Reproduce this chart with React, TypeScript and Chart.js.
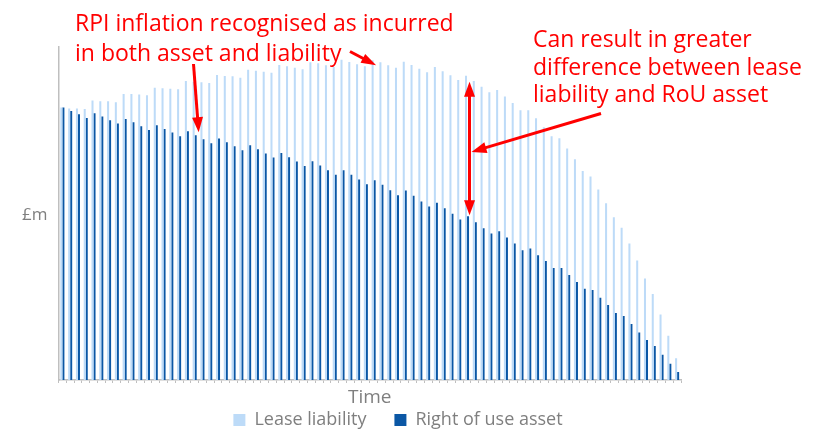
import React, { useEffect, useRef } from 'react';
import { Chart, registerables } from 'chart.js';

Chart.register(...registerables);

const periods = [
  '1', '2', '3', '4', '5', '6', '7', '8', '9', '10',
  '11', '12', '13', '14', '15', '16', '17', '18', '19', '20',
  '21', '22', '23', '24', '25', '26', '27', '28', '29', '30',
  '31', '32', '33', '34', '35', '36', '37', '38', '39', '40',
  '41', '42', '43', '44', '45', '46', '47', '48', '49', '50',
  '51', '52', '53', '54', '55', '56', '57', '58', '59', '60',
  '61', '62', '63', '64', '65', '66', '67', '68', '69', '70',
  '71', '72', '73', '74', '75', '76', '77', '78', '79', '80',
];

const leaseLiability = [
  81.8, 81.5, 81.5, 81.4, 83.9, 83.7, 83.7, 83.4, 85.9, 85.9,
  85.7, 85.5, 87.8, 87.6, 87.5, 87.3, 89.8, 89.6, 89.4, 89.2,
  91.6, 91.3, 91.2, 90.8, 93.2, 92.9, 92.6, 92.3, 94.6, 94.2,
  93.8, 93.3, 95.4, 95.1, 94.5, 94.0, 96.2, 95.5, 94.8, 94.2,
  96.0, 95.4, 94.5, 93.8, 95.6, 94.6, 93.5, 92.4, 94.0, 92.7,
  91.5, 90.1, 91.4, 89.8, 88.1, 86.4, 87.1, 85.1, 83.2, 81.0,
  81.0, 78.6, 75.9, 73.2, 72.6, 69.5, 66.3, 62.8, 61.1, 57.2,
  53.1, 48.9, 45.7, 41.0, 35.9, 30.5, 25.8, 19.7, 13.3, 6.5,
];

const rightOfUseAsset = [
  81.8, 80.8, 79.8, 78.7, 80.1, 79.1, 78.0, 77.0, 78.4, 77.4,
  76.2, 75.1, 76.5, 75.4, 74.3, 73.2, 74.7, 73.5, 72.3, 71.1,
  72.5, 71.4, 70.2, 69.0, 70.5, 69.3, 68.0, 66.8, 68.2, 66.9,
  65.6, 64.3, 65.7, 64.4, 63.0, 61.6, 63.0, 61.6, 60.2, 58.8,
  60.0, 58.6, 57.0, 55.5, 56.9, 55.3, 53.6, 52.1, 53.2, 51.6,
  49.9, 48.2, 49.2, 47.4, 45.6, 44.0, 44.7, 42.8, 41.0, 39.0,
  39.5, 37.5, 35.7, 33.6, 33.6, 31.5, 29.4, 27.4, 27.0, 24.7,
  22.5, 20.1, 19.2, 16.8, 14.3, 12.0, 10.2, 7.6, 4.9, 2.4,
];

const seriesLabels = ['Lease liability', 'Right of use asset'];
const xTitle = 'Time';
const yTitle = '£m';
const noteRpi = ['RPI inflation recognised as incurred', 'in both asset and liability'];
const noteGap = ['Can result in greater', 'difference between lease', 'liability and RoU asset'];

const LIGHT = '#BDDBF8';
const DARK = '#0B57A5';
const GREY = '#7F7F7F';
const AXIS = '#BFBFBF';
const RED = '#FF0000';
const FONT = '"Open Sans", sans-serif';

const W = 815;
const H = 439;
const PAD_RIGHT = 19;
const PLOT_RIGHT = 681;

function arrowHead(ctx: CanvasRenderingContext2D, bx: number, by: number, tx: number, ty: number, len: number, half: number) {
  const dx = tx - bx;
  const dy = ty - by;
  const d = Math.hypot(dx, dy) || 1;
  const ux = dx / d;
  const uy = dy / d;
  const baseX = tx - ux * len;
  const baseY = ty - uy * len;
  ctx.beginPath();
  ctx.moveTo(tx, ty);
  ctx.lineTo(baseX - uy * half, baseY + ux * half);
  ctx.lineTo(baseX + uy * half, baseY - ux * half);
  ctx.closePath();
  ctx.fill();
  return [baseX + ux * 1, baseY + uy * 1];
}

function arrow(ctx: CanvasRenderingContext2D, x1: number, y1: number, x2: number, y2: number, len = 15, half = 5.5) {
  const [bx, by] = arrowHead(ctx, x1, y1, x2, y2, len, half);
  ctx.beginPath();
  ctx.moveTo(x1, y1);
  ctx.lineTo(bx, by);
  ctx.stroke();
}

function doubleArrow(ctx: CanvasRenderingContext2D, x1: number, y1: number, x2: number, y2: number, len = 15, half = 5.5) {
  const [ax, ay] = arrowHead(ctx, x2, y2, x1, y1, len, half);
  const [bx, by] = arrowHead(ctx, x1, y1, x2, y2, len, half);
  ctx.beginPath();
  ctx.moveTo(ax, ay);
  ctx.lineTo(bx, by);
  ctx.stroke();
}

const annotations = {
  id: 'annotations',
  afterDraw(chart: any) {
    const ctx: CanvasRenderingContext2D = chart.ctx;
    const lease = chart.getDatasetMeta(0).data;
    const rou = chart.getDatasetMeta(1).data;
    ctx.save();
    ctx.textAlign = 'left';
    ctx.textBaseline = 'alphabetic';
    ctx.fillStyle = GREY;
    ctx.font = `17px ${FONT}`;
    ctx.fillText(yTitle, 22, 220);

    ctx.fillStyle = RED;
    ctx.font = `23px ${FONT}`;
    noteRpi.forEach((t, i) => ctx.fillText(t, 75, 31 + i * 29.5));
    noteGap.forEach((t, i) => ctx.fillText(t, 533, 47 + i * 27.5));

    ctx.strokeStyle = RED;
    ctx.lineWidth = 3;
    ctx.lineCap = 'butt';

    // arrow to asset bar
    const a = rou[17];
    arrow(ctx, 193.5, 64, a.x + 3, a.y - 3);
    // arrow to liability bar
    const b = lease[40];
    arrow(ctx, 350, 51.5, b.x + 3.5, b.y + 5, 15, 5);
    // double arrow spanning the gap
    const gx = rou[52].x + 1.5;
    const gTop = lease[52].y + 6;
    const gBot = rou[52].y - 1;
    doubleArrow(ctx, gx, gTop, gx, gBot);
    // arrow from the right-hand note
    arrow(ctx, 601, 113.5, gx + 2, (gTop + gBot) / 2 + 3.5);
    ctx.restore();
  },
};

export default function App() {
  const ref = useRef<HTMLCanvasElement | null>(null);
  useEffect(() => {
    if (!ref.current) return;
    const chart = new Chart(ref.current, {
      type: 'bar',
      data: {
        labels: periods,
        datasets: [
          {
            label: seriesLabels[0],
            data: leaseLiability,
            backgroundColor: LIGHT,
            borderWidth: 0,
            categoryPercentage: 0.52,
            barPercentage: 1,
          },
          {
            label: seriesLabels[1],
            data: rightOfUseAsset,
            backgroundColor: DARK,
            borderWidth: 0,
            categoryPercentage: 0.52,
            barPercentage: 1,
          },
        ],
      },
      options: {
        responsive: false,
        maintainAspectRatio: false,
        devicePixelRatio: 1,
        animation: false,
        events: [],
        layout: { padding: { top: 47, left: 0, right: PAD_RIGHT, bottom: 0 } },
        plugins: {
          tooltip: { enabled: false },
          legend: {
            position: 'bottom',
            labels: {
              boxWidth: 12,
              boxHeight: 12,
              padding: 28,
              color: GREY,
              font: { family: FONT, size: 18 },
            },
          },
        },
        scales: {
          x: {
            type: 'category',
            offset: true,
            grid: {
              display: true,
              drawOnChartArea: false,
              drawTicks: true,
              tickLength: 3,
              color: AXIS,
              offset: true,
            },
            border: { display: true, color: AXIS, width: 1.5 },
            ticks: { display: false },
            title: {
              display: true,
              text: xTitle,
              color: GREY,
              font: { family: FONT, size: 19 },
              padding: { top: 3, bottom: -25.8 },
            },
          },
          y: {
            min: 0,
            max: 100,
            grid: { display: false, drawTicks: false },
            ticks: { display: false },
            border: { display: true, color: AXIS, width: 1.5 },
            afterFit: (s: any) => {
              s.width = 58.5;
            },
          },
          yRight: {
            position: 'right',
            min: 0,
            max: 100,
            grid: { display: false, drawTicks: false },
            ticks: { display: false },
            border: { display: false },
            afterFit: (s: any) => {
              s.width = W - PAD_RIGHT - PLOT_RIGHT;
            },
          },
        },
      } as any,
      plugins: [annotations],
    });
    return () => chart.destroy();
  }, []);

  return (
    <div
      style={{
        position: 'fixed',
        left: 0,
        top: 0,
        width: 815,
        height: 429,
        overflow: 'hidden',
        background: '#ffffff',
      }}
    >
      <canvas ref={ref} width={W} height={H} style={{ display: 'block', width: W, height: H }} />
    </div>
  );
}
